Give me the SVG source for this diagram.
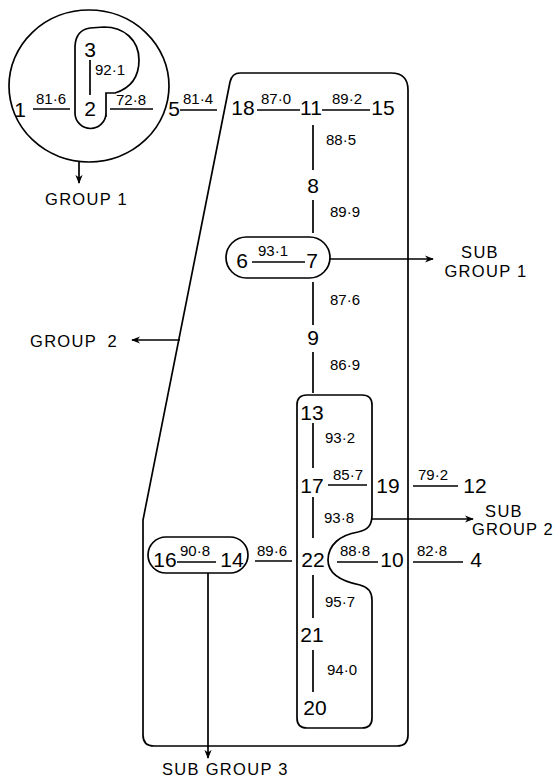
<svg xmlns="http://www.w3.org/2000/svg" width="556" height="779" viewBox="0 0 556 779">
<style>
.n{font-family:"Liberation Sans",Arial,sans-serif;font-size:21px;fill:#000;text-anchor:middle}
.l{font-family:"Liberation Sans",Arial,sans-serif;font-size:15px;fill:#000;text-anchor:middle}
.g{font-family:"Liberation Sans",Arial,sans-serif;font-size:16.5px;fill:#000;letter-spacing:1.3px}
.s{fill:none;stroke:#000;stroke-width:1.7}
.e{stroke:#000;stroke-width:1.7;fill:none}
</style>
<defs>
<marker id="ah" viewBox="0 0 10 10" refX="9" refY="5" markerWidth="9" markerHeight="9" markerUnits="userSpaceOnUse" orient="auto">
<path d="M0,1 L10,5 L0,9 L3,5 Z" fill="#000"/>
</marker>
</defs>
<g id="group1">
<ellipse class="s" cx="89" cy="86" rx="80" ry="76"/>
<path class="s" d="M106 117 L106 93 L115 93 C131 88 139 76 139 60 C139 40 124 27 104 27 L90 28 Q76 30 75 46 L75 113 A15.5 15.5 0 0 0 106 113"/>
</g>
<g id="group2">
<path class="s" d="M240 73 L391 73 Q408 73 408 90 L408 735 Q408 746 397 746 L154 746 Q143 746 143 735 L143 520 L230 82 Q232 73 240 73 Z"/>
</g>
<g id="subgroup1"><rect class="s" x="226" y="237" width="104" height="41" rx="20.5"/></g>
<g id="subgroup2">
<path class="s" d="M297 405 Q297 395 307 395 L362 395 Q372 395 372 405 L372 515 C372 525 368 530 358 532 C340 535 328 545 328 560 C328 575 345 582 360 585 C368 587 372 592 372 600 L372 718 Q372 728 362 728 L307 728 Q297 728 297 718 Z"/>
</g>
<g id="subgroup3"><rect class="s" x="148" y="537" width="100" height="36" rx="18"/></g>
<g id="connectors">
<line class="e" x1="33" y1="109" x2="70" y2="109"/>
<line class="e" x1="90" y1="60" x2="90" y2="95"/>
<line class="e" x1="110" y1="109" x2="153" y2="109"/>
<line class="e" x1="180" y1="110" x2="217" y2="110"/>
<line class="e" x1="257" y1="110" x2="300" y2="110"/>
<line class="e" x1="322" y1="110" x2="370" y2="110"/>
<line class="e" x1="313" y1="125" x2="313" y2="170"/>
<line class="e" x1="313" y1="200" x2="313" y2="233"/>
<line class="e" x1="252" y1="262" x2="305" y2="262"/>
<line class="e" x1="313" y1="282" x2="313" y2="325"/>
<line class="e" x1="313" y1="352" x2="313" y2="393"/>
<line class="e" x1="313" y1="423" x2="313" y2="468"/>
<line class="e" x1="328" y1="485" x2="367" y2="485"/>
<line class="e" x1="413" y1="486" x2="458" y2="486"/>
<line class="e" x1="313" y1="497" x2="313" y2="538"/>
<line class="e" x1="337" y1="562" x2="378" y2="562"/>
<line class="e" x1="413" y1="562" x2="463" y2="562"/>
<line class="e" x1="255" y1="561" x2="292" y2="561"/>
<line class="e" x1="177" y1="562" x2="216" y2="562"/>
<line class="e" x1="313" y1="575" x2="313" y2="618"/>
<line class="e" x1="313" y1="650" x2="313" y2="692"/>
<line class="e" x1="79" y1="162" x2="79" y2="183" marker-end="url(#ah)"/>
<line class="e" x1="180" y1="340" x2="132" y2="340" marker-end="url(#ah)"/>
<line class="e" x1="330" y1="259" x2="433" y2="259" marker-end="url(#ah)"/>
<line class="e" x1="372" y1="519" x2="473" y2="519" marker-end="url(#ah)"/>
<line class="e" x1="208" y1="573" x2="208" y2="758" marker-end="url(#ah)"/>
</g>
<g id="nodes">
<text class="n" x="20" y="117">1</text>
<text class="n" x="90" y="116">2</text>
<text class="n" x="90" y="57">3</text>
<text class="n" x="174" y="116">5</text>
<text class="n" x="243" y="115">18</text>
<text class="n" x="311" y="115">11</text>
<text class="n" x="383" y="115">15</text>
<text class="n" x="313" y="193">8</text>
<text class="n" x="242" y="268">6</text>
<text class="n" x="312" y="268">7</text>
<text class="n" x="313" y="345">9</text>
<text class="n" x="312" y="420">13</text>
<text class="n" x="312" y="493">17</text>
<text class="n" x="388" y="493">19</text>
<text class="n" x="475" y="493">12</text>
<text class="n" x="313" y="567">22</text>
<text class="n" x="392" y="567">10</text>
<text class="n" x="476" y="567">4</text>
<text class="n" x="165" y="567">16</text>
<text class="n" x="232" y="567">14</text>
<text class="n" x="312" y="642">21</text>
<text class="n" x="315" y="715">20</text>
</g>
<g id="labels">
<text class="l" x="51" y="104">81·6</text>
<text class="l" x="110" y="75">92·1</text>
<text class="l" x="131" y="105">72·8</text>
<text class="l" x="198" y="104">81·4</text>
<text class="l" x="276" y="104">87·0</text>
<text class="l" x="347" y="104">89·2</text>
<text class="l" x="341" y="145">88·5</text>
<text class="l" x="345" y="217">89·9</text>
<text class="l" x="273" y="256">93·1</text>
<text class="l" x="345" y="305">87·6</text>
<text class="l" x="345" y="370">86·9</text>
<text class="l" x="340" y="443">93·2</text>
<text class="l" x="348" y="480">85·7</text>
<text class="l" x="433" y="480">79·2</text>
<text class="l" x="339" y="523">93·8</text>
<text class="l" x="355" y="556">88·8</text>
<text class="l" x="432" y="556">82·8</text>
<text class="l" x="272" y="556">89·6</text>
<text class="l" x="195" y="556">90·8</text>
<text class="l" x="340" y="607">95·7</text>
<text class="l" x="342" y="675">94·0</text>
<text class="g" x="45" y="205">GROUP 1</text>
<text class="g" x="30" y="347">GROUP <tspan dx="5">2</tspan></text>
<text class="g" x="480" y="258" text-anchor="middle">SUB</text>
<text class="g" x="486" y="277" text-anchor="middle">GROUP 1</text>
<text class="g" x="504" y="517" text-anchor="middle">SUB</text>
<text class="g" x="472" y="535" textLength="82">GROUP 2</text>
<text class="g" x="162" y="775">SUB GROUP 3</text>
</g>
</svg>
